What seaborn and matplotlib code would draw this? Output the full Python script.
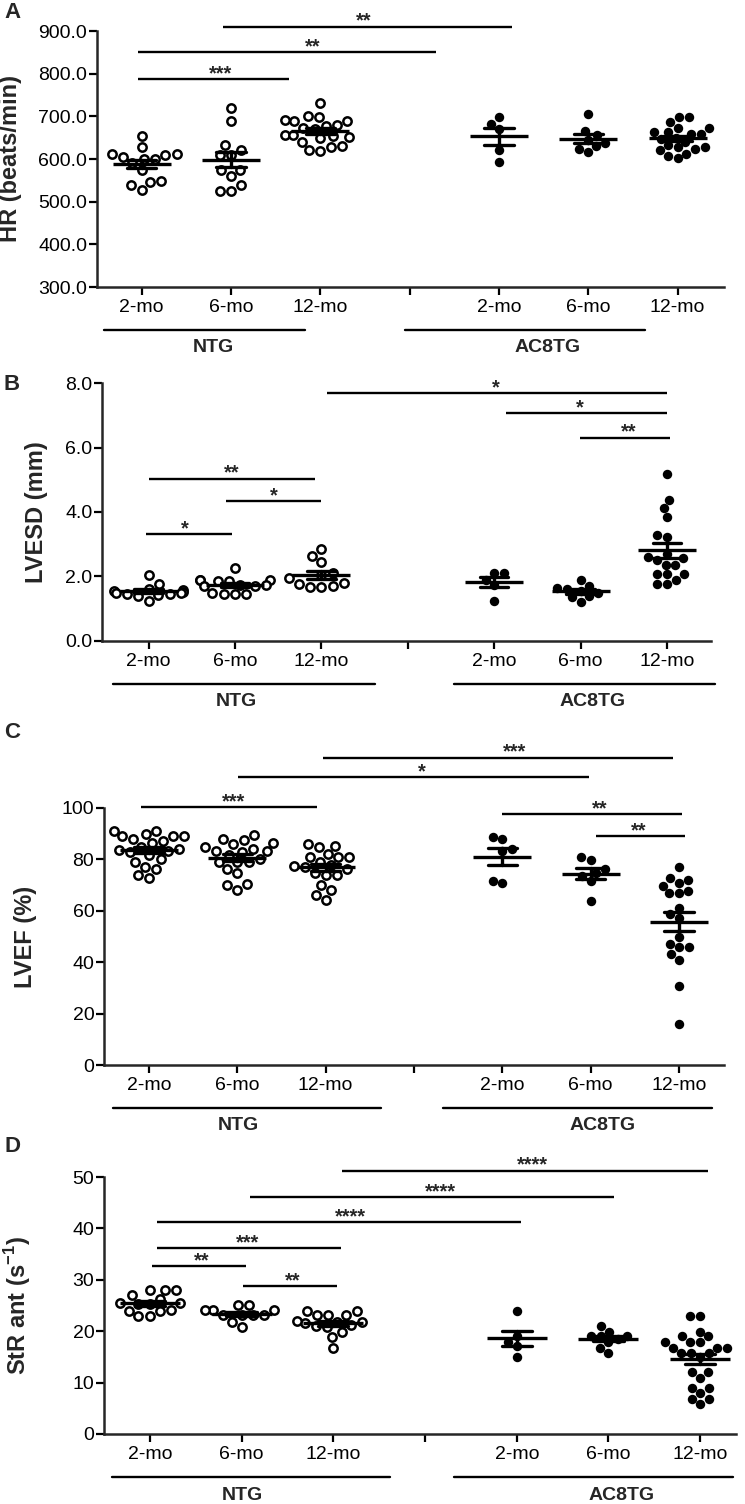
import numpy as np
import pandas as pd
import matplotlib.pyplot as plt
import matplotlib.transforms as mtransforms
import seaborn as sns

# Orden de grupos en el eje x (el hueco separa los dos genotipos)
order = ['NTG 2-mo', 'NTG 6-mo', 'NTG 12-mo', 'gap', 'AC8TG 2-mo', 'AC8TG 6-mo', 'AC8TG 12-mo']
groups = ['NTG 2-mo', 'NTG 6-mo', 'NTG 12-mo', 'AC8TG 2-mo', 'AC8TG 6-mo', 'AC8TG 12-mo']
tick_labels = ['2-mo', '6-mo', '12-mo', '', '2-mo', '6-mo', '12-mo']

# A - HR (beats/min)
hr_ntg_2m = [655, 628, 612, 611, 610, 605, 600, 600, 590, 575, 548, 545, 538, 527]
hr_ntg_6m = [720, 688, 632, 622, 610, 610, 575, 575, 561, 538, 526, 526]
hr_ntg_12m = [731, 698, 700, 690, 691, 688, 680, 677, 672, 671, 657, 651, 649, 653, 657, 641, 628, 622, 618, 631]
hr_ac_2m = [699, 682, 670, 620, 594]
hr_ac_6m = [705, 666, 656, 645, 631, 637, 624, 617]
hr_ac_12m = [699, 699, 687, 672, 664, 664, 672, 659, 650, 659, 648, 641, 633, 627, 627, 623, 620, 612, 608, 602]

# B - LVESD (mm)
lvesd_ntg_2m = [2.05, 1.78, 1.62, 1.58, 1.55, 1.52, 1.50, 1.50, 1.47, 1.45, 1.42, 1.40, 1.25]
lvesd_ntg_6m = [2.25, 1.90, 1.89, 1.88, 1.87, 1.86, 1.75, 1.73, 1.72, 1.70, 1.48, 1.47, 1.46, 1.45]
lvesd_ntg_12m = [2.84, 2.65, 2.45, 2.10, 2.05, 1.95, 1.80, 1.70, 1.68, 1.66, 1.78]
lvesd_ac_2m = [2.12, 2.10, 1.90, 1.75, 1.25]
lvesd_ac_6m = [1.88, 1.72, 1.65, 1.60, 1.55, 1.50, 1.38, 1.35, 1.22]
lvesd_ac_12m = [5.17, 4.37, 4.11, 3.83, 3.29, 3.22, 2.70, 2.56, 2.61, 2.51, 2.36, 2.36, 2.07, 2.07, 2.07, 1.89, 1.77, 1.77]

# C - LVEF (%)
lvef_ntg_2m = [91.0, 91.0, 88.0, 89.7, 89.0, 89.0, 89.0, 87.1, 86.2, 84.9, 82.8, 83.2, 84.1, 83.6, 81.9, 80.0, 79.1, 76.1, 77.2, 72.9, 73.9]
lvef_ntg_6m = [89.3, 88.0, 87.5, 85.8, 86.2, 84.1, 84.9, 83.2, 83.2, 83.0, 81.9, 79.1, 79.1, 79.1, 80.0, 76.1, 74.8, 70.3, 70.1, 68.1]
lvef_ntg_12m = [85.4, 84.9, 86.1, 82.2, 81.0, 81.0, 80.9, 79.1, 77.2, 73.9, 74.8, 73.9, 77.4, 77.7, 76.1, 70.1, 68.1, 66.2, 64.3]
lvef_ac_2m = [88.8, 87.8, 83.9, 83.4, 70.7, 71.7]
lvef_ac_6m = [79.8, 80.8, 76.1, 74.8, 73.5, 71.7, 63.8]
lvef_ac_12m = [76.9, 72.0, 72.6, 70.7, 69.8, 66.8, 66.8, 67.8, 61.0, 58.8, 57.1, 49.9, 45.8, 46.0, 47.0, 43.1, 40.9, 30.7, 15.8]

# D - StR ant (s-1)
str_ntg_2m = [28.0, 27.0, 28.1, 28.1, 26.2, 25.4, 25.3, 25.3, 25.4, 24.1, 24.0, 24.0, 22.9, 22.9]
str_ntg_6m = [25.1, 25.1, 24.1, 24.1, 24.1, 23.1, 23.1, 23.1, 23.1, 21.8, 20.8]
str_ntg_12m = [23.9, 23.9, 23.1, 23.1, 23.1, 21.8, 21.5, 21.7, 21.0, 19.9, 18.9, 16.8, 20.8, 21.2, 22.0]
str_ac_2m = [24.0, 19.1, 17.9, 17.2, 14.9]
str_ac_6m = [21.0, 19.9, 19.0, 19.0, 19.0, 18.5, 17.9, 16.8, 15.8]
str_ac_12m = [22.9, 22.9, 19.9, 19.0, 19.0, 17.9, 17.9, 17.9, 16.8, 16.8, 16.8, 15.8, 15.8, 15.8, 15.0,
              12.0, 12.0, 10.9, 8.9, 8.9, 8.0, 6.9, 6.9, 5.9]

# Comparaciones: (x inicio, x fin, y, x de los asteriscos, texto)
sig_a = [(-0.04, 1.65, 787, 0.88, '***'), (-0.04, 3.30, 850, 1.91, '**'), (0.91, 4.15, 910, 2.49, '**')]
sig_b = [(-0.03, 0.96, 3.32, 0.42, '*'), (0.0, 1.93, 5.03, 0.96, '**'), (0.90, 2.0, 4.34, 1.45, '*'),
         (2.07, 6.0, 7.69, 4.02, '*'), (4.14, 6.0, 7.07, 4.99, '*'), (4.99, 6.04, 6.31, 5.56, '**')]
sig_c = [(-0.09, 1.90, 100.3, 0.96, '***'), (1.01, 4.98, 111.9, 3.09, '*'), (1.97, 5.93, 119.5, 4.14, '***'),
         (4.0, 6.04, 97.7, 5.10, '**'), (5.06, 6.07, 89.0, 5.54, '**')]
sig_d = [(0.02, 1.05, 32.7, 0.56, '**'), (1.02, 2.04, 28.7, 1.56, '**'), (0.08, 2.08, 36.2, 1.06, '***'),
         (0.08, 4.05, 41.2, 2.19, '****'), (1.09, 5.06, 46.1, 3.17, '****'), (2.10, 6.08, 51.2, 4.17, '****')]

sns.set_style('ticks')
plt.rcParams['font.family'] = ['Liberation Sans', 'DejaVu Sans']
plt.rcParams['mathtext.fontset'] = 'custom'
plt.rcParams['mathtext.rm'] = 'Liberation Sans'
plt.rcParams['mathtext.bf'] = 'Liberation Sans:bold'

W, H = 745, 1504
fig = plt.figure(figsize=(W / 100, H / 100), dpi=100)

panels = [
    dict(letter='A', ylabel='HR (beats/min)', values=[hr_ntg_2m, hr_ntg_6m, hr_ntg_12m, hr_ac_2m, hr_ac_6m, hr_ac_12m],
         ylim=(300, 900), yticks=[300, 400, 500, 600, 700, 800, 900], fmt='{:.1f}', sig=sig_a,
         rect=(97, 724, 31, 287), xlim=(-0.50, 6.52),
         under=[(-0.42, 1.83, 0.80, 'NTG'), (2.95, 5.64, 4.55, 'AC8TG')],
         letter_pos=(12, 12), ylabel_x=11),
    dict(letter='B', ylabel='LVESD (mm)', values=[lvesd_ntg_2m, lvesd_ntg_6m, lvesd_ntg_12m, lvesd_ac_2m, lvesd_ac_6m, lvesd_ac_12m],
         ylim=(0, 8), yticks=[0, 2, 4, 6, 8], fmt='{:.1f}', sig=sig_b,
         rect=(102, 711, 383, 641), xlim=(-0.54, 6.51),
         under=[(-0.41, 2.62, 1.02, 'NTG'), (3.53, 6.56, 5.14, 'AC8TG')],
         letter_pos=(12, 384), ylabel_x=36),
    dict(letter='C', ylabel='LVEF (%)', values=[lvef_ntg_2m, lvef_ntg_6m, lvef_ntg_12m, lvef_ac_2m, lvef_ac_6m, lvef_ac_12m],
         ylim=(0, 100), yticks=[0, 20, 40, 60, 80, 100], fmt='{:.0f}', sig=sig_c,
         rect=(104, 724, 808, 1065), xlim=(-0.51, 6.51),
         under=[(-0.41, 2.63, 1.01, 'NTG'), (3.33, 6.37, 5.14, 'AC8TG')],
         letter_pos=(12, 732), ylabel_x=26),
    dict(letter='D', ylabel=r'StR ant (s$^{\mathbf{-1}}$)', values=[str_ntg_2m, str_ntg_6m, str_ntg_12m, str_ac_2m, str_ac_6m, str_ac_12m],
         ylim=(0, 50), yticks=[0, 10, 20, 30, 40, 50], fmt='{:.0f}', sig=sig_d,
         rect=(104, 736, 1177, 1434), xlim=(-0.50, 6.39),
         under=[(-0.41, 2.62, 1.01, 'NTG'), (3.32, 6.36, 5.14, 'AC8TG')],
         letter_pos=(12, 1147), ylabel_x=18),
]

for p in panels:
    left, right, top, bottom = p['rect']
    ax = fig.add_axes([left / W, 1 - bottom / H, (right - left) / W, (bottom - top) / H])

    # Tabla larga con los valores de cada grupo
    rows = []
    for g, vals in zip(groups, p['values']):
        for v in vals:
            rows.append((g, g.split()[0], v))
    df = pd.DataFrame(rows, columns=['group', 'genotype', 'value'])

    sns.swarmplot(data=df[df['genotype'] == 'NTG'], x='group', y='value', order=order,
                  color='white', edgecolor='black', linewidth=1.8, size=6.0, ax=ax, zorder=3)
    sns.swarmplot(data=df[df['genotype'] == 'AC8TG'], x='group', y='value', order=order,
                  color='black', size=6.8, ax=ax, zorder=3)

    # Media +/- SEM
    unit_px = (right - left) / (p['xlim'][1] - p['xlim'][0])
    sns.pointplot(data=df, x='group', y='value', order=order, errorbar='se', capsize=0.33,
                  color='black', linestyle='none', marker='_', markersize=0.66 * unit_px * 0.72,
                  markeredgewidth=2.4, err_kws={'linewidth': 2.4}, ax=ax, zorder=5)

    # Barras de significancia
    for x0, x1, y, xt, stars in p['sig']:
        ax.plot([x0, x1], [y, y], color='black', lw=1.7, clip_on=False, solid_capstyle='butt')
        ax.text(xt, y, stars, ha='center', va='baseline', fontsize=14.5, fontweight='bold')

    ax.set_xlim(*p['xlim'])
    ax.set_ylim(*p['ylim'])
    ax.set_xticks(range(len(order)))
    ax.set_xticklabels(tick_labels)
    ax.set_yticks(p['yticks'])
    ax.set_yticklabels([p['fmt'].format(t) for t in p['yticks']])
    ax.set_xlabel('')
    ax.set_ylabel('')
    sns.despine(ax=ax)
    for s in ['left', 'bottom']:
        ax.spines[s].set_linewidth(1.8)
    ax.tick_params(axis='both', length=5.5, width=1.6, labelsize=14, color='black', labelcolor='black')
    ax.tick_params(axis='y', pad=1.5)
    ax.tick_params(axis='x', pad=3)

    # Líneas y nombres de genotipo bajo el eje
    base = mtransforms.blended_transform_factory(ax.transData, ax.transAxes)
    line_tr = base + mtransforms.ScaledTranslation(0, -43 / 100, fig.dpi_scale_trans)
    for x0, x1, xc, name in p['under']:
        ax.plot([x0, x1], [0, 0], transform=line_tr, color='black', lw=1.7, clip_on=False)
        ax.annotate(name, xy=(xc, 0), xycoords=base, xytext=(0, -61 * 0.72), textcoords='offset points',
                    ha='center', va='center', fontsize=14, fontweight='bold')

    fig.text(p['letter_pos'][0] / W, 1 - p['letter_pos'][1] / H, p['letter'], ha='center', va='center',
             fontsize=16, fontweight='bold')
    fig.text(p['ylabel_x'] / W, 1 - (top + bottom) / 2 / H, p['ylabel'], rotation=90, ha='center',
             va='center', fontsize=17, fontweight='bold')

fig.savefig('out.png', dpi=100)
